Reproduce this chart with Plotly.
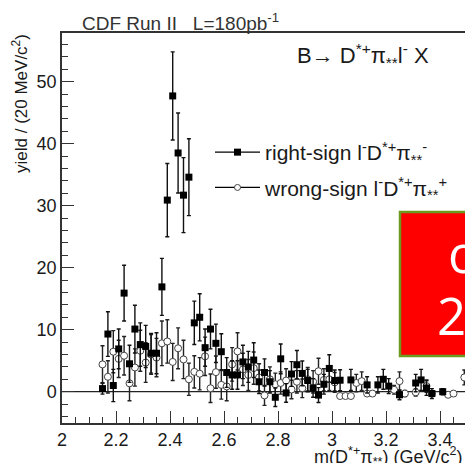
import plotly.graph_objects as go

# ---- data (bin centres in GeV/c^2, 20 MeV bins) ----
mass = [round(2.15 + 0.02 * k, 2) for k in range(68)]

rs_yield = [0.5, 9.3, 1.0, 6.9, 15.9, 4.5, 10.1, 7.6, 7.3, 6.2,
            6.2, 16.9, 30.9, 47.7, 38.5, 31.7, 34.6, 11.1, 12.0, 7.1,
            10.1, 7.8, 6.45, 3.1, 2.7, 2.7, 4.8, 4.0, 5.1, 1.6,
            3.1, 1.6, -0.9, 5.3, -0.2, 2.85, 4.35, 2.95, 1.8, 0.6,
            -0.55, 1.2, 3.75, 1.8, 1.85, None, 1.9, None, None, 1.1,
            None, 1.1, 2.0, 0.9, None, -0.5, None, None, 1.4, 1.9,
            0.6, -0.3, None, 0.0, None, None, None, None]
rs_err = [0.9, 3.6, 2.6, 3.2, 4.5, 3.0, 3.85, 3.5, 3.4, 3.2,
          3.3, 4.6, 5.9, 7.1, 6.45, 6.05, 6.2, 3.5, 3.8, 3.0,
          3.2, 3.1, 2.9, 2.4, 2.3, 2.3, 2.7, 2.5, 2.8, 1.9,
          2.2, 1.8, 1.5, 2.4, 1.5, 2.0, 2.3, 2.0, 1.8, 1.5,
          1.2, 1.6, 2.2, 1.7, 1.7, 0, 1.7, 0, 0, 1.3,
          0, 1.3, 1.6, 1.2, 0, 0.8, 0, 0, 1.4, 1.7,
          1.2, 0.8, 0, 0.5, 0, 0, 0, 0]

ws_yield = [4.4, 2.4, 6.45, 5.3, 5.8, 1.35, 3.9, 6.6, 4.7, 6.0,
            5.5, 7.8, 8.1, 4.8, 7.0, 5.2, 2.0, 3.2, 2.9, 5.7,
            0.55, 3.15, 1.1, 0.85, 4.4, 6.5, 3.6, 2.7, 3.8, 2.3,
            -0.6, 2.0, 1.2, 1.4, 1.8, 0.35, 1.6, 0.55, 2.0, 1.6,
            3.3, 1.9, 2.0, 1.5, -0.7, -0.7, -0.7, 1.4, 1.7, -0.3,
            -0.3, None, None, None, 0.3, 1.7, -0.3, None, -0.1, None,
            0.9, -0.3, None, None, -0.5, -0.3, None, 2.3]
ws_err = [3.0, 2.6, 3.4, 3.0, 3.1, 2.8, 3.0, 3.3, 3.2, 3.2,
          3.1, 3.6, 3.5, 3.0, 3.3, 3.1, 2.6, 2.6, 2.6, 3.1,
          2.3, 2.6, 2.3, 2.3, 2.7, 3.0, 2.6, 2.5, 2.6, 2.2,
          1.6, 2.0, 1.8, 1.8, 1.9, 1.5, 1.8, 1.5, 1.9, 1.8,
          2.1, 1.8, 1.8, 1.6, 0, 0, 0, 1.4, 1.5, 0,
          0, 0, 0, 0, 0.7, 1.5, 0.5, 0, 0.6, 0,
          1.0, 0, 0, 0, 0, 0, 0, 1.2]

x_ticks = [2.0, 2.2, 2.4, 2.6, 2.8, 3.0, 3.2, 3.4]
y_ticks = [0, 10, 20, 30, 40, 50]

FONT = "Liberation Sans, Arial, sans-serif"

# ---- geometry helpers (layout only) ----
W, H = 465, 463
L, T, B = 62, 33, 40
PW, PH = W - L, H - T - B


def px(x):
    return (x - L) / PW


def py(y):
    return (H - B - y) / PH


fig = go.Figure()

fig.add_trace(go.Scatter(
    x=mass, y=ws_yield, mode="markers", showlegend=False,
    marker=dict(symbol="circle", size=7, color="white",
                line=dict(color="#444", width=1)),
    error_y=dict(type="data", array=ws_err, color="#222",
                 thickness=1.4, width=2),
))
fig.add_trace(go.Scatter(
    x=mass, y=rs_yield, mode="markers", showlegend=False,
    marker=dict(symbol="square", size=7, color="black"),
    error_y=dict(type="data", array=rs_err, color="#111",
                 thickness=1.4, width=2),
))

# legend entries (ROOT "lep" style)
fig.add_trace(go.Scatter(
    x=[None], y=[None], mode="lines+markers", legendgroup="rs",
    name="right-sign l<sup>-</sup>D<sup>*+</sup>π<sub>**</sub><sup>-</sup>",
    marker=dict(symbol="square", size=7, color="black"),
    line=dict(color="black", width=1.2),
))
fig.add_trace(go.Scatter(
    x=[None], y=[None], mode="lines+markers", legendgroup="ws",
    name="wrong-sign l<sup>-</sup>D<sup>*+</sup>π<sub>**</sub><sup>+</sup>",
    marker=dict(symbol="circle", size=6, color="white",
                line=dict(color="#444", width=1)),
    line=dict(color="black", width=1.2),
))

axis_common = dict(
    showline=True, linecolor="#333", linewidth=1.5,
    ticks="inside", ticklen=12, tickwidth=1.2, tickcolor="#333",
    showgrid=False, zeroline=False,
    tickfont=dict(family=FONT, size=18, color="#1a1a1a"),
)

fig.update_layout(
    width=W, height=H,
    margin=dict(l=L, r=0, t=T, b=B, pad=0),
    plot_bgcolor="white", paper_bgcolor="white",
    font=dict(family=FONT, color="#1a1a1a"),
    xaxis=dict(range=[2.0, 2.0 + PW / 270.0], tickvals=x_ticks,
               ticktext=[f"{v:g}" for v in x_ticks], mirror=True,
               minor=dict(ticks="inside", ticklen=6, dtick=0.05,
                          tickcolor="#333", tickwidth=1),
               **axis_common),
    yaxis=dict(range=[-5.05, 57.85], tickvals=y_ticks, mirror=False,
               minor=dict(ticks="inside", ticklen=6, dtick=2,
                          tickcolor="#333", tickwidth=1),
               **axis_common),
    legend=dict(x=px(210), y=py(132), xanchor="left", yanchor="top",
                bgcolor="rgba(0,0,0,0)", itemwidth=45,
                traceorder="grouped", tracegroupgap=5,
                font=dict(family=FONT, size=21, color="#1a1a1a")),
    shapes=[
        dict(type="line", xref="paper", x0=0, x1=1, yref="y", y0=0, y1=0,
             line=dict(color="#222", width=1.2), layer="below"),
        dict(type="rect", xref="paper", x0=px(400), x1=px(480),
             yref="paper", y0=py(356), y1=py(212),
             fillcolor="#ff0000", line=dict(color="#6b9a1f", width=2.5),
             layer="above"),
    ],
    annotations=[
        dict(text="CDF Run II\u00a0\u00a0\u00a0L=180pb<sup>-1</sup>",
             xref="paper", yref="paper", x=px(80), y=py(22),
             xanchor="left", yanchor="middle", showarrow=False,
             font=dict(family=FONT, size=19, color="#333")),
        dict(text="B→ D<sup>*+</sup>π<sub>**</sub>l<sup>-</sup> X",
             xref="paper", yref="paper", x=px(295), y=py(55),
             xanchor="left", yanchor="middle", showarrow=False,
             font=dict(family=FONT, size=22, color="#1a1a1a")),
        dict(text="yield / (20 MeV/c<sup>2</sup>)",
             xref="paper", yref="paper", x=px(20), y=py(104),
             xanchor="center", yanchor="middle", textangle=-90,
             showarrow=False,
             font=dict(family=FONT, size=17, color="#1a1a1a")),
        dict(text="m(D<sup>*+</sup>π<sub>**</sub>) (GeV/c<sup>2</sup>)",
             xref="paper", yref="paper", x=1.0, y=py(457),
             xanchor="right", yanchor="middle", showarrow=False,
             font=dict(family=FONT, size=18, color="#1a1a1a")),
        dict(text="o", xref="paper", yref="paper", x=px(446), y=py(253),
             xanchor="left", yanchor="middle", showarrow=False,
             font=dict(family="Open Sans", size=51, color="white")),
        dict(text="2", xref="paper", yref="paper", x=px(435), y=py(315),
             xanchor="left", yanchor="middle", showarrow=False,
             font=dict(family="Open Sans", size=51, color="white")),
    ],
)

fig.write_html("out.html",
               config={"displayModeBar": False},
               post_script="document.body.style.margin='0';"
                           "document.body.style.overflow='hidden';")
